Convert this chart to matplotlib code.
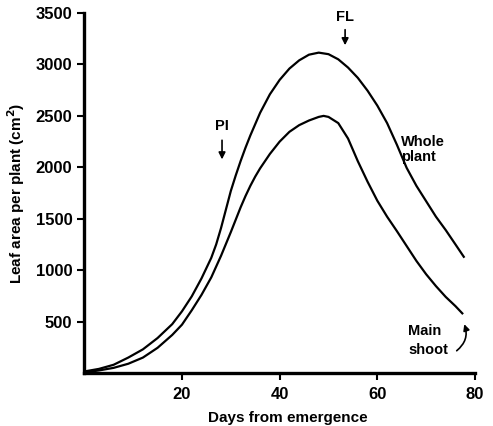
import matplotlib
matplotlib.use("Agg")
import matplotlib.pyplot as plt

# Leaf area per plant (cm^2)
days_whole = [0, 3, 6, 9, 12, 15, 18, 20, 22, 24, 26, 27, 28, 29, 30, 31, 32, 33, 34,
              36, 38, 40, 42, 44, 46, 48, 50, 52, 54, 56, 58, 60, 62, 64, 66, 68, 70,
              72, 74, 76, 77.7]
whole_plant = [15, 40, 80, 150, 230, 340, 475, 600, 745, 920, 1120, 1250, 1410, 1590,
               1770, 1920, 2060, 2190, 2310, 2530, 2710, 2850, 2960, 3040, 3095, 3115,
               3100, 3050, 2970, 2870, 2745, 2600, 2430, 2220, 1995, 1820, 1670, 1520,
               1390, 1250, 1130]

days_main = [0, 3, 6, 9, 12, 15, 18, 20, 22, 24, 26, 28, 30, 31, 32, 33, 34, 35, 36,
             38, 40, 42, 44, 46, 48, 49, 50, 52, 54, 56, 58, 60, 62, 64, 66, 68, 70,
             72, 74, 76, 77.4]
main_shoot = [5, 25, 50, 90, 150, 245, 370, 470, 610, 760, 930, 1140, 1370, 1490, 1610,
              1720, 1820, 1910, 1990, 2130, 2250, 2345, 2410, 2455, 2490, 2500, 2490,
              2430, 2280, 2060, 1860, 1675, 1520, 1380, 1235, 1090, 960, 845, 740, 650,
              580]

x_ticks = [20, 40, 60, 80]
y_ticks = [500, 1000, 1500, 2000, 2500, 3000, 3500]

plt.rcParams["font.family"] = ["Liberation Sans", "DejaVu Sans"]
plt.rcParams["font.weight"] = "bold"

fig = plt.figure(figsize=(4.93, 4.26), dpi=100)
ax = fig.add_axes([0.171, 0.1244, 0.7925, 0.845])

ax.plot(days_whole, whole_plant, color="black", lw=1.6)
ax.plot(days_main, main_shoot, color="black", lw=1.6)

ax.set_xlim(0, 80)
ax.set_ylim(0, 3500)
ax.set_xticks(x_ticks)
ax.set_yticks(y_ticks)
ax.tick_params(axis="both", direction="out", length=5, width=1.5, labelsize=12)
ax.tick_params(axis="x", pad=5)
for s in ["top", "right"]:
    ax.spines[s].set_visible(False)
for s in ["left", "bottom"]:
    ax.spines[s].set_linewidth(2.4)

ax.set_xlabel("Days from emergence", fontsize=11, fontweight="bold", labelpad=4)
ax.xaxis.set_label_coords(0.52, -0.105)
ax.set_ylabel("Leaf area per plant (cm$^\\mathbf{2}$)", fontsize=11, fontweight="bold", labelpad=6)

# stage markers
ax.text(28.2, 2330, "PI", ha="center", va="bottom", fontsize=10.5, fontweight="bold")
ax.annotate("", xy=(28.2, 2050), xytext=(28.2, 2290),
            arrowprops=dict(arrowstyle="-|>", color="black", lw=1.2, mutation_scale=10))
ax.text(53.4, 3390, "FL", ha="center", va="bottom", fontsize=10.5, fontweight="bold")
ax.annotate("", xy=(53.4, 3160), xytext=(53.4, 3365),
            arrowprops=dict(arrowstyle="-|>", color="black", lw=1.2, mutation_scale=10))

ax.text(64.8, 2170, "Whole\nplant", ha="left", va="center", fontsize=10.5,
        fontweight="bold", linespacing=1.1)
ax.text(66.3, 320, "Main\nshoot", ha="left", va="center", fontsize=10.5,
        fontweight="bold", linespacing=1.45)
ax.annotate("", xy=(77.6, 500), xytext=(75.8, 200),
            arrowprops=dict(arrowstyle="-|>", color="black", lw=1.2, mutation_scale=9,
                            connectionstyle="arc3,rad=0.4"))

fig.savefig("out.png", dpi=100)
